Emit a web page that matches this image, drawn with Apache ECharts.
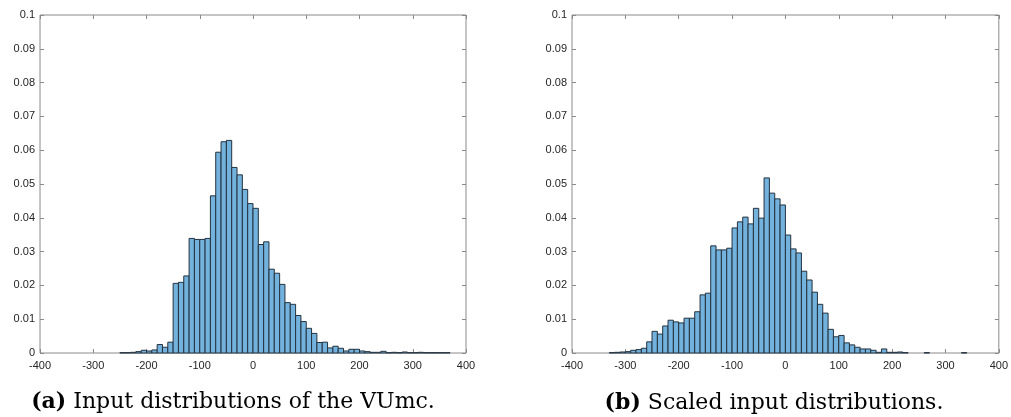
<!DOCTYPE html>
<html>
<head>
<meta charset="utf-8">
<script src="https://cdn.jsdelivr.net/npm/echarts@6/dist/echarts.min.js"></script>
<style>
html,body{margin:0;padding:0;background:#fff;}
#chart{width:1011px;height:417px;}
</style>
</head>
<body>
<div id="chart"></div>
<script>
// ---- data (bin left edges, bin width 10, normalized densities) ----
const BIN_WIDTH = 10;
const leftBins = [-250,-240,-230,-220,-210,-200,-190,-180,-170,-160,-150,-140,-130,-120,-110,-100,-90,-80,-70,-60,-50,-40,-30,-20,-10,0,10,20,30,40,50,60,70,80,90,100,110,120,130,140,150,160,170,180,190,200,210,220,230,240,250,260,270,280,290,300,310,320,330,340,350,360];
const leftValues = [0.0001,0.0001,0.0002,0.0004,0.0008,0.0006,0.0009,0.0025,0.0017,0.0032,0.0206,0.0209,0.0228,0.0339,0.0336,0.0336,0.0339,0.0465,0.0594,0.0625,0.0629,0.0549,0.0527,0.0484,0.0442,0.0428,0.0321,0.0329,0.0248,0.0236,0.0203,0.0149,0.0144,0.0111,0.0093,0.0073,0.0058,0.0031,0.0032,0.0015,0.0020,0.0014,0.0006,0.0011,0.0011,0.0006,0.0004,0.0002,0.0002,0.0005,0.0001,0.0002,0.0001,0.0003,0.0001,0.0001,0.0002,0.0001,0.0001,0.0001,0.0001,0.0001];
const rightBins = [-330,-320,-310,-300,-290,-280,-270,-260,-250,-240,-230,-220,-210,-200,-190,-180,-170,-160,-150,-140,-130,-120,-110,-100,-90,-80,-70,-60,-50,-40,-30,-20,-10,0,10,20,30,40,50,60,70,80,90,100,110,120,130,140,150,160,170,180,190,200,210,220,260,330];
const rightValues = [0.0001,0.0002,0.0003,0.0004,0.0008,0.0010,0.0014,0.0033,0.0064,0.0056,0.0080,0.0097,0.0092,0.0089,0.0103,0.0103,0.0122,0.0172,0.0177,0.0317,0.0305,0.0305,0.0310,0.0370,0.0388,0.0402,0.0382,0.0428,0.0399,0.0518,0.0473,0.0456,0.0438,0.0349,0.0308,0.0296,0.0242,0.0216,0.0180,0.0144,0.0118,0.0070,0.0048,0.0052,0.0030,0.0024,0.0017,0.0012,0.0012,0.0008,0.0002,0.0012,0.0002,0.0002,0.0003,0.0001,0.0001,0.0001];
const xTicks = { min: -400, max: 400, interval: 100 };
const yTicks = { min: 0, max: 0.1, interval: 0.01 };
const captionA = ['(a)', 'Input distributions of the VUmc.'];
const captionB = ['(b)', 'Scaled input distributions.'];

// ---- styling ----
const BOX = '#8a8a8a';
const LABEL = '#262626';
const FILL = '#72b2dd';
const EDGE = '#24323f';

function histData(bins, vals) {
  return bins.map((b, i) => [b, b + BIN_WIDTH, vals[i]]);
}
function renderBar(params, api) {
  const p0 = api.coord([api.value(0), api.value(2)]);
  const p1 = api.coord([api.value(1), 0]);
  return {
    type: 'rect',
    shape: { x: p0[0], y: p0[1], width: p1[0] - p0[0], height: p1[1] - p0[1] },
    style: { fill: FILL, stroke: EDGE, lineWidth: 1 }
  };
}
function xAx(gridIndex, position) {
  const bottom = position === 'bottom';
  return {
    type: 'value', gridIndex, position,
    min: xTicks.min, max: xTicks.max, interval: xTicks.interval,
    axisLine: { show: false, onZero: false },
    axisTick: { show: true, inside: true, length: 4, lineStyle: { color: BOX } },
    axisLabel: { show: bottom, color: LABEL, fontSize: 11, fontFamily: 'Liberation Sans', margin: 7 },
    splitLine: { show: false }
  };
}
function yAx(gridIndex, position) {
  const left = position === 'left';
  return {
    type: 'value', gridIndex, position,
    min: yTicks.min, max: yTicks.max, interval: yTicks.interval,
    axisLine: { show: false, onZero: false },
    axisTick: { show: true, inside: true, length: 4, lineStyle: { color: BOX } },
    axisLabel: { show: left, color: LABEL, fontSize: 11, fontFamily: 'Liberation Sans', margin: 5,
      formatter: v => String(+v.toFixed(2)) },
    splitLine: { show: false }
  };
}
const CAP_SIZE = 22;
const captionStyle = {
  fill: '#000', fontSize: CAP_SIZE, fontFamily: 'DejaVu Serif',
  rich: {
    b: { fontWeight: 'bold', fontSize: CAP_SIZE, fontFamily: 'DejaVu Serif', fill: '#000' },
    n: { fontSize: CAP_SIZE, fontFamily: 'DejaVu Serif', fill: '#000' }
  }
};

const chart = echarts.init(document.getElementById('chart'), null, { renderer: 'canvas' });
chart.setOption({
  animation: false,
  backgroundColor: '#fff',
  grid: [
    { left: 40, top: 15, width: 426, height: 338, show: true, borderColor: BOX, borderWidth: 1, backgroundColor: 'transparent' },
    { left: 572, top: 15, width: 427, height: 338, show: true, borderColor: BOX, borderWidth: 1, backgroundColor: 'transparent' }
  ],
  xAxis: [xAx(0, 'bottom'), xAx(0, 'top'), xAx(1, 'bottom'), xAx(1, 'top')],
  yAxis: [yAx(0, 'left'), yAx(0, 'right'), yAx(1, 'left'), yAx(1, 'right')],
  series: [
    { type: 'custom', xAxisIndex: 0, yAxisIndex: 0, renderItem: renderBar, data: histData(leftBins, leftValues), encode: { x: [0, 1], y: 2 } },
    { type: 'custom', xAxisIndex: 2, yAxisIndex: 2, renderItem: renderBar, data: histData(rightBins, rightValues), encode: { x: [0, 1], y: 2 } }
  ],
  graphic: [
    { type: 'text', x: 233, y: 402, style: Object.assign({}, captionStyle, {
        text: '{b|' + captionA[0] + '} {n|' + captionA[1] + '}', align: 'center', verticalAlign: 'middle' }) },
    { type: 'text', x: 774, y: 403, style: Object.assign({}, captionStyle, {
        text: '{b|' + captionB[0] + '} {n|' + captionB[1] + '}', align: 'center', verticalAlign: 'middle' }) }
  ]
});
</script>
</body>
</html>
